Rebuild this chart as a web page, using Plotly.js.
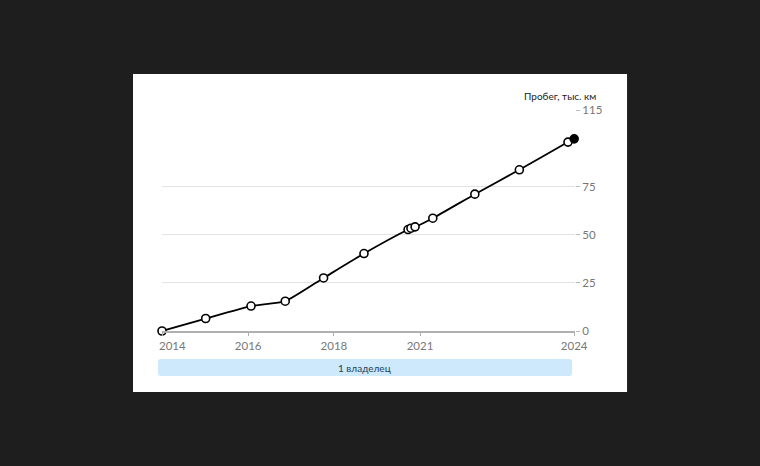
<!DOCTYPE html>
<html>
<head>
<meta charset="utf-8">
<script src="https://cdn.plot.ly/plotly-3.0.1.min.js"></script>
<style>
html,body{margin:0;padding:0;background:#1e1e1e;}
#chart{width:760px;height:466px;}
</style>
</head>
<body>
<div id="chart"></div>
<script>
// Mileage records (decimal year, thousand km)
const dates = [2014.0, 2015.06, 2016.16, 2016.99, 2017.92, 2018.90, 2019.97, 2020.04, 2020.14, 2020.57, 2021.59, 2022.67, 2023.85, 2024.0];
const mileage = [0, 6.5, 13.0, 15.5, 27.6, 40.3, 52.8, 53.5, 54.2, 58.7, 71.2, 83.9, 98.3, 100.0];

// X axis tick labels and their positions
const xTickVals = [2014.0, 2016.09, 2018.17, 2020.26, 2024.0];
const xTickText = ['2014', '2016', '2018', '2021', '2024'];

// Y axis ticks
const yTickVals = [0, 25, 50, 75, 115];

// Owners
const ownerLabels = ['1 владелец'];
const ownerStart = [2013.9];
const ownerEnd = [2023.95];

const yAxisTitle = 'Пробег, тыс. км';

const last = dates.length - 1;
const markerColors = dates.map((d, i) => i === last ? '#000000' : '#ffffff');

const trace = {
  x: dates,
  y: mileage,
  type: 'scatter',
  mode: 'lines+markers',
  line: {color: '#000000', width: 1.8, shape: 'spline', smoothing: 0.5},
  marker: {color: markerColors, size: 8, opacity: 1, line: {color: '#000000', width: 1.6}},
  cliponaxis: false,
  hoverinfo: 'skip'
};

const plotW = 413, plotH = 221;
const xRange = [2014, 2024.02];
const toPaperX = d => (d - xRange[0]) / (xRange[1] - xRange[0]);
const shapes = [{
  type: 'rect', xref: 'paper', yref: 'paper', layer: 'below',
  x0: -0.0702, x1: 1.126, y0: -0.276, y1: 1.163,
  fillcolor: '#ffffff', line: {width: 0}
}];
const annotations = [{
  xref: 'paper', yref: 'paper', x: 1.056, y: 1.065, xanchor: 'right', yanchor: 'middle',
  text: yAxisTitle, showarrow: false, font: {family: 'Lato, "Open Sans", sans-serif', size: 10, color: '#222222'}
}];
const bandY0 = -0.204, bandY1 = -0.127;
const r = 3;
const rx = r / plotW, ry = r / plotH;
ownerLabels.forEach((lab, i) => {
  const a = toPaperX(ownerStart[i]), b = toPaperX(ownerEnd[i]);
  const path = `M ${a + rx},${bandY0} L ${b - rx},${bandY0} Q ${b},${bandY0} ${b},${bandY0 + ry} ` +
    `L ${b},${bandY1 - ry} Q ${b},${bandY1} ${b - rx},${bandY1} L ${a + rx},${bandY1} ` +
    `Q ${a},${bandY1} ${a},${bandY1 - ry} L ${a},${bandY0 + ry} Q ${a},${bandY0} ${a + rx},${bandY0} Z`;
  shapes.push({type: 'path', xref: 'paper', yref: 'paper', path: path, fillcolor: '#cde9fb', line: {width: 0}, layer: 'below'});
  annotations.push({
    xref: 'paper', yref: 'paper', x: (a + b) / 2, y: (bandY0 + bandY1) / 2, xanchor: 'center', yanchor: 'middle',
    text: lab, showarrow: false, font: {family: 'Lato, "Open Sans", sans-serif', size: 10, color: '#1f4257'}
  });
});

const tickText = xTickText.map((t, i) => i === 0 ? '\u00a0\u00a0\u00a0\u00a0\u00a0\u00a0\u00a0' + t : t);

const layout = {
  width: 760, height: 466,
  margin: {l: 162, r: 185, t: 110, b: 135},
  paper_bgcolor: '#1e1e1e',
  plot_bgcolor: 'rgba(0,0,0,0)',
  showlegend: false,
  font: {family: 'Lato, "Open Sans", sans-serif', color: '#777777', size: 11},
  xaxis: {
    range: xRange, tickmode: 'array', tickvals: xTickVals, ticktext: tickText,
    showgrid: false, zeroline: false, showline: true, linecolor: '#b0b0b0', linewidth: 2,
    ticks: 'outside', ticklen: 3, tickcolor: '#b0b0b0', tickwidth: 1,
    tickfont: {size: 11.5, color: '#777777'}, fixedrange: true
  },
  yaxis: {
    range: [0, 115], side: 'right', tickmode: 'array', tickvals: yTickVals,
    showgrid: true, gridcolor: '#e2e2e2', gridwidth: 1, zeroline: false, showline: false,
    ticks: 'outside', ticklen: 4, tickcolor: '#bbbbbb',
    tickfont: {size: 11.5, color: '#777777'}, fixedrange: true
  },
  shapes: shapes,
  annotations: annotations
};

Plotly.newPlot('chart', [trace], layout, {displayModeBar: false, staticPlot: true});
</script>
</body>
</html>
